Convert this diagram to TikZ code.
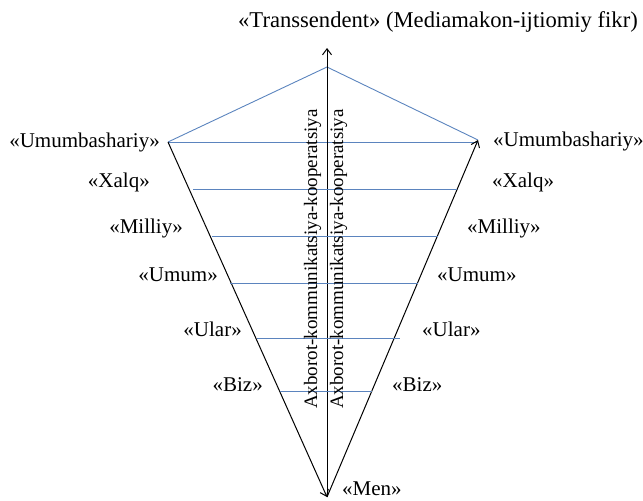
\documentclass[tikz,border=0pt]{standalone}
\usepackage{fontspec}
\setmainfont{Liberation Serif}
\usetikzlibrary{arrows.meta}
\definecolor{lineblue}{HTML}{5B84BE}

\begin{document}
\begin{tikzpicture}[x=1pt, y=-1pt,
      every node/.style={font=\fontsize{21}{25}\selectfont, inner sep=0pt},
      levelline/.style={color=lineblue, line width=0.9pt},
      arrow/.style={-{Straight Barb[length=6pt,width=9pt]}, line width=1pt, color=black},
      axlabel/.style={rotate=90, anchor=base, font=\fontsize{19}{23}\selectfont}
    ]
      \useasboundingbox (0,0) rectangle (643,501);
      % frame of the funnel
      \coordinate (men) at (327,497);
      \coordinate (top) at (327,48);
      \coordinate (apex) at (327,67);
      \coordinate (ul) at (168,142);
      \coordinate (ur) at (478,140);
      \draw[levelline] (ul) -- (apex) -- (ur);
      \draw[levelline] (ul) -- (ul -| ur);
      \draw[arrow] (ul) -- (men);
      \draw[arrow] (men) -- (ur);
      \draw[arrow] (men) -- (top);
      \node[font=\fontsize{22.6}{27}\selectfont] (trans) at (438,22) {«Transsendent» (Mediamakon-ijtiomiy fikr)};
      \node[anchor=east] (lumumb) at (160,142) {«Umumbashariy»};
      \node[anchor=west] (rumumb) at (493,141) {«Umumbashariy»};
      \node[anchor=west] (menlabel) at (342,489) {«Men»};
      % levels
      \foreach \y/\xl/\xr/\ll/\lr/\ty/\name in {189/193/457/150/492/182/Xalq, 236/212/438/183/467/228/Milliy,
          283/230/418/218/437/275/Umum, 338/257/400/242/422/329/Ular, 391/280/372/263/392/385/Biz} {
        \coordinate (a\name) at (\xl,\y);
        \coordinate (b\name) at (\xr,\y);
        \draw[levelline] (a\name) -- (b\name);
        \node[anchor=east] (l\name) at (\ll,\ty) {«\name»};
        \node[anchor=west] (r\name) at (\lr,\ty) {«\name»};
      }
      \node[axlabel] (axleft) at (317,259) {Axborot-kommunikatsiya-kooperatsiya};
      \node[axlabel] (axright) at (343,259) {Axborot-kommunikatsiya-kooperatsiya};
    \end{tikzpicture}
\end{document}
